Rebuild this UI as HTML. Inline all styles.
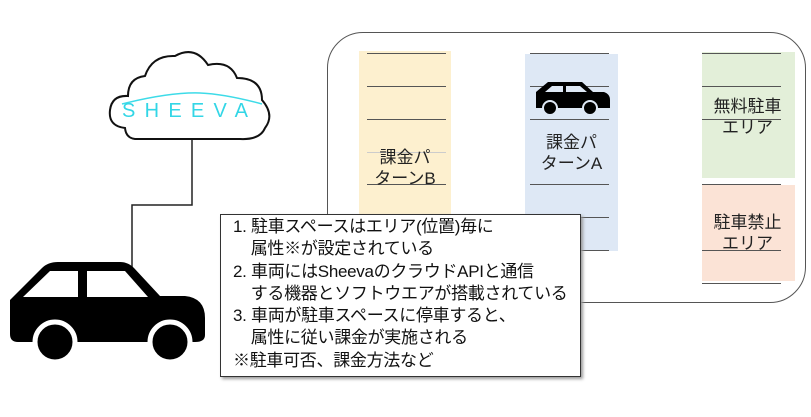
<!DOCTYPE html>
<html><head><meta charset="utf-8"><style>
body{margin:0;width:811px;height:417px;background:#fff;position:relative;overflow:hidden;font-family:"Liberation Sans","Noto Sans CJK JP",sans-serif;}
.a{position:absolute}
.col{position:absolute}
.ln{position:absolute;height:1px;background:#555}
.lbl{position:absolute;text-align:center;font-size:17px;line-height:21px;color:#222}
.box{position:absolute;left:220px;top:214px;width:361px;height:163px;border:1px solid #333;background:#fff;box-shadow:2px 2px 3px #999;font-size:17px;line-height:22.3px;color:#111;padding:1px 0 0 12px;box-sizing:border-box;white-space:nowrap;letter-spacing:-0.3px}
</style></head><body>
<div class="a" style="left:327px;top:32px;width:479px;height:271px;border:1px solid #555;border-radius:36px;box-sizing:border-box"></div>
<div class="col" style="left:359px;top:51px;width:92px;height:200px;background:#fdf0cf"></div>
<div class="col" style="left:525px;top:54px;width:93px;height:197px;background:#dee8f5"></div>
<div class="col" style="left:702px;top:52px;width:93px;height:126px;background:#e3efd9"></div>
<div class="col" style="left:702px;top:185px;width:93px;height:96px;background:#fbe3d6"></div>
<div class="ln" style="left:367px;top:53px;width:79px"></div>
<div class="ln" style="left:367px;top:86px;width:79px"></div>
<div class="ln" style="left:367px;top:119px;width:79px"></div>
<div class="ln" style="left:367px;top:152px;width:79px;background:#ccc"></div>
<div class="ln" style="left:367px;top:184px;width:79px"></div>
<div class="ln" style="left:530px;top:53px;width:79px"></div>
<div class="ln" style="left:530px;top:86px;width:79px"></div>
<div class="ln" style="left:530px;top:119px;width:79px"></div>
<div class="ln" style="left:530px;top:184px;width:79px"></div>
<div class="ln" style="left:530px;top:217px;width:79px"></div>
<div class="ln" style="left:530px;top:250px;width:79px"></div>
<div class="ln" style="left:702px;top:53px;width:79px"></div>
<div class="ln" style="left:702px;top:86px;width:79px"></div>
<div class="ln" style="left:702px;top:119px;width:79px"></div>
<div class="ln" style="left:702px;top:184px;width:79px"></div>
<div class="ln" style="left:702px;top:250px;width:79px"></div>
<div class="ln" style="left:702px;top:283px;width:79px"></div>
<div class="lbl" style="left:359px;top:147px;width:92px">課金パ<br>ターンB</div>
<div class="lbl" style="left:525px;top:132px;width:93px">課金パ<br>ターンA</div>
<div class="lbl" style="left:700px;top:96px;width:95px">無料駐車<br>エリア</div>
<div class="lbl" style="left:700px;top:212px;width:95px">駐車禁止<br>エリア</div>
<svg class="a" style="left:0;top:0" width="811" height="417">
<g fill="#000">
<path d="M536 92 L548 82 H582 L593 92 H604 Q610 94 610 100 V108 H536 Z"/>
<circle cx="550" cy="108" r="7" stroke="#dee8f5" stroke-width="2"/>
<circle cx="590" cy="108" r="7" stroke="#dee8f5" stroke-width="2"/>
</g>
<path d="M545 92 L552 86 H563 V92 Z M566 86 H580 L587 92 H566 Z" fill="#dee8f5"/>
<polyline points="192,140 192,205 132,205 132,268" fill="none" stroke="#222" stroke-width="1.5"/>
<path d="M125 128 Q108 126 110 110 Q112 95 128 96 Q128 78 145 76 Q152 55 175 56 Q195 45 208 65 Q230 60 237 78 Q262 78 262 100 Q275 115 265 128 Q260 140 240 139 H135 Q126 138 125 128 Z" fill="#fff" stroke="#111" stroke-width="2"/>
<path d="M122 104 Q170 92 200 93 Q225 94 262 104" fill="none" stroke="#3ddbe8" stroke-width="1.5"/>
<text x="122" y="117" font-size="20" fill="#33d6e6" font-family="Liberation Sans" letter-spacing="4" textLength="130">SHEEVA</text>
<g fill="#000">
<path d="M10 300 L42 268 Q48 262 58 262 H120 Q128 262 134 268 L160 296 H185 Q205 298 205 318 V335 Q205 342 195 342 H18 Q10 342 10 334 Z"/>
<circle cx="55" cy="342" r="20" stroke="#fff" stroke-width="5"/>
<circle cx="170" cy="342" r="20" stroke="#fff" stroke-width="5"/>
</g>
<path d="M23 297 L50 271 H78 V297 Z M87 271 H125 L148 297 H87 Z" fill="#fff"/>
</svg>
<div class="box">1. 駐車スペースはエリア(位置)毎に<br>&nbsp;&nbsp;&nbsp;&nbsp;属性※が設定されている<br>2. 車両にはSheevaのクラウドAPIと通信<br>&nbsp;&nbsp;&nbsp;&nbsp;する機器とソフトウエアが搭載されている<br>3. 車両が駐車スペースに停車すると、<br>&nbsp;&nbsp;&nbsp;&nbsp;属性に従い課金が実施される<br>※駐車可否、課金方法など</div>
</body></html>
